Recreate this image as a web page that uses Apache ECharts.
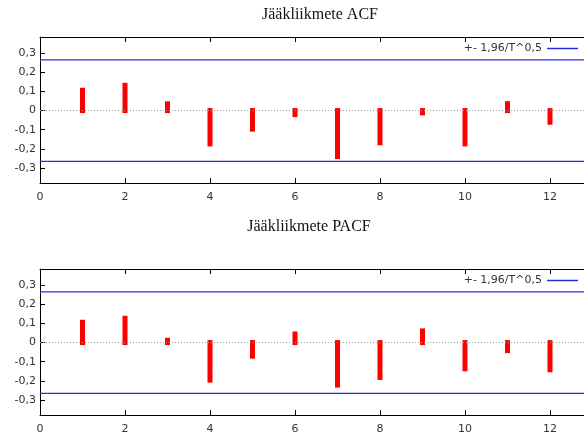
<!DOCTYPE html>
<html>
<head>
<meta charset="utf-8">
<script src="https://cdn.jsdelivr.net/npm/echarts@6/dist/echarts.min.js"></script>
<style>html,body{margin:0;padding:0;background:#fff}#c{width:584px;height:437px}</style>
</head>
<body>
<div id="c"></div>
<script>
var lags = [1, 2, 3, 4, 5, 6, 7, 8, 9, 10, 11, 12];
var acfValues = [0.106, 0.132, 0.035, -0.174, -0.097, -0.021, -0.240, -0.168, -0.012, -0.174, 0.036, -0.061];
var pacfValues = [0.106, 0.127, 0.012, -0.196, -0.071, 0.045, -0.222, -0.182, 0.061, -0.137, -0.042, -0.142];
var confLimit = 0.265;
var yTicks = [-0.3, -0.2, -0.1, 0, 0.1, 0.2, 0.3];
var xRange = [0, 12.8];
var yRange = [-0.378, 0.384];
var titles = ['Jääkliikmete ACF', 'Jääkliikmete PACF'];
var legendName = '+- 1,96/T^0,5';

var sans = 'DejaVu Sans';
var labelColor = '#333';
var blue = '#2a2ae4';

function fmt(v) {
  if (Math.abs(v) < 1e-9) return '0';
  return v.toFixed(1).replace('.', ',');
}

var gridTops = [37, 269];
var grids = [], xAxes = [], yAxes = [], series = [], titleArr = [], legends = [];
var titleLeft = [320, 309];
var titleTop = [7, 219];
var dataSets = [acfValues, pacfValues];
var axisLineStyle = {color: '#000', width: 1};

for (var g = 0; g < 2; g++) {
  grids.push({left: 40, right: 0, top: gridTops[g], height: 146, show: false, containLabel: false});
  xAxes.push({type: 'value', gridIndex: g, position: 'bottom', min: xRange[0], max: xRange[1], interval: 2,
    axisLine: {show: true, onZero: false, lineStyle: axisLineStyle}, splitLine: {show: false},
    axisTick: {show: true, inside: true, length: 5, lineStyle: {color: '#000'}},
    axisLabel: {show: true, margin: 9, color: labelColor, fontFamily: sans, fontSize: 11,
      showMaxLabel: false}});
  xAxes.push({type: 'value', gridIndex: g, position: 'top', min: xRange[0], max: xRange[1], interval: 2,
    axisLine: {show: true, onZero: false, lineStyle: axisLineStyle}, splitLine: {show: false},
    axisTick: {show: true, inside: true, length: 5, lineStyle: {color: '#000'}},
    axisLabel: {show: false}});
  yAxes.push({type: 'value', gridIndex: g, min: yRange[0], max: yRange[1],
    axisLine: {show: true, onZero: false, lineStyle: axisLineStyle}, splitLine: {show: false},
    axisTick: {show: true, inside: true, length: 5, lineStyle: {color: '#000'}, customValues: yTicks},
    axisLabel: {show: true, margin: 4, color: labelColor, fontFamily: sans, fontSize: 11,
      customValues: yTicks, formatter: fmt}});

  titleArr.push({text: titles[g], left: titleLeft[g], top: titleTop[g], textAlign: 'center', padding: 0,
    textStyle: {fontFamily: 'Liberation Serif', fontSize: 16, fontWeight: 'normal', color: '#111'}});

  legends.push({data: [legendName], right: 6, top: gridTops[g] + 6, padding: 0, align: 'right',
    icon: 'rect', itemWidth: 31, itemHeight: 1.5, selectedMode: false,
    itemStyle: {color: blue},
    textStyle: {fontFamily: sans, fontSize: 11, color: labelColor}});

  var xi = g * 2, yi = g;
  series.push({type: 'line', xAxisIndex: xi, yAxisIndex: yi, data: [[xRange[0], 0], [xRange[1], 0]],
    showSymbol: false, silent: true, animation: false,
    lineStyle: {color: '#999', width: 1, type: [1, 2]}});
  series.push({name: legendName, type: 'line', xAxisIndex: xi, yAxisIndex: yi,
    data: [[xRange[0], confLimit], [xRange[1], confLimit]], showSymbol: false, animation: false,
    itemStyle: {color: blue}, lineStyle: {color: blue, width: 1.3}});
  series.push({name: legendName, type: 'line', xAxisIndex: xi, yAxisIndex: yi,
    data: [[xRange[0], -confLimit], [xRange[1], -confLimit]], showSymbol: false, animation: false,
    itemStyle: {color: blue}, lineStyle: {color: blue, width: 1.3}});
  (function (vals) {
    series.push({type: 'custom', xAxisIndex: xi, yAxisIndex: yi, animation: false,
      data: lags.map(function (l, i) { return [l, vals[i]]; }),
      renderItem: function (params, api) {
        var p0 = api.coord([api.value(0), 0]);
        var p1 = api.coord([api.value(0), api.value(1)]);
        return {type: 'line', shape: {x1: p0[0], y1: p0[1], x2: p1[0], y2: p1[1]},
          style: {stroke: '#ff0000', lineWidth: 5, lineCap: 'square'}};
      }});
  })(dataSets[g]);
}

var chart = echarts.init(document.getElementById('c'), null, {renderer: 'canvas'});
chart.setOption({
  animation: false,
  title: titleArr,
  legend: legends,
  grid: grids,
  xAxis: xAxes,
  yAxis: yAxes,
  series: series
});
</script>
</body>
</html>
